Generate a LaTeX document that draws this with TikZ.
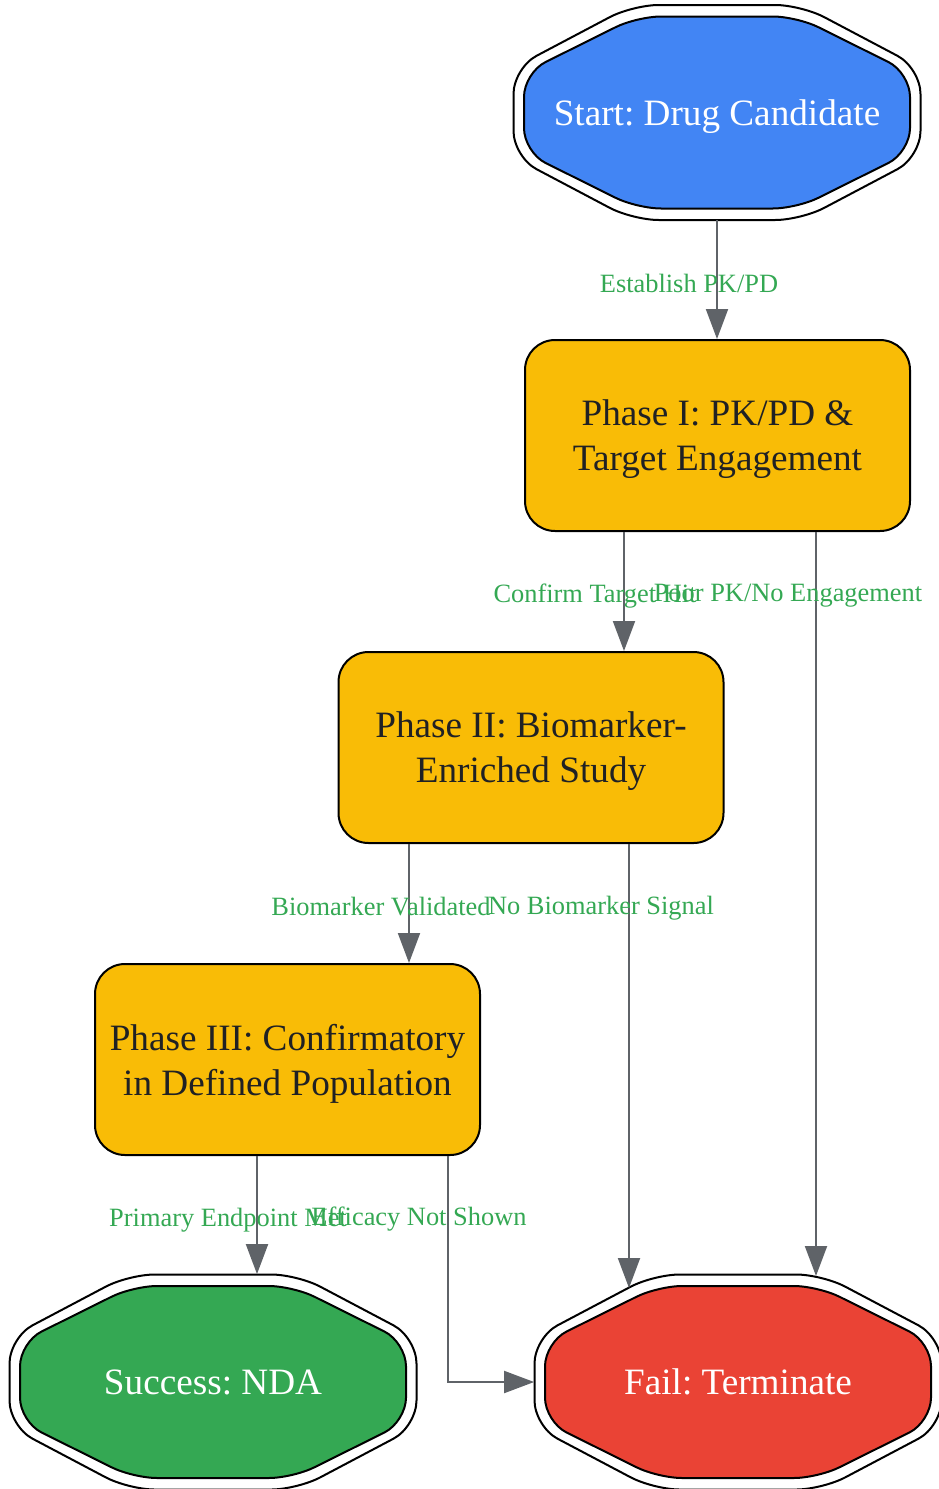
\documentclass[tikz,border=0pt]{standalone}
\usepackage{fontspec}
\setmainfont{Liberation Serif}
\usetikzlibrary{arrows.meta,positioning}

\definecolor{startblue}{HTML}{4285F4}
\definecolor{phaseyellow}{HTML}{F9BC06}
\definecolor{successgreen}{HTML}{34A853}
\definecolor{failred}{HTML}{EA4335}
\definecolor{edgegray}{HTML}{5F6368}
\definecolor{labelgreen}{HTML}{34A853}
\definecolor{nodetext}{HTML}{202124}

\newcommand{\nodefont}{\fontsize{18.6}{22.5}\selectfont}
\newcommand{\labelfont}{\fontsize{13.2}{15}\selectfont}
\frenchspacing

% octagon round a centre: #1 centre, #2 half width, #3 half height, #4 style
\newcommand{\octoutline}[4]{%
    \draw[#4,shift={(#1)}] (-0.414*#2,-#3) -- (0.414*#2,-#3) -- (#2,-0.414*#3)
        -- (#2,0.414*#3) -- (0.414*#2,#3) -- (-0.414*#2,#3) -- (-#2,0.414*#3)
        -- (-#2,-0.414*#3) -- cycle;}

\begin{document}
\begin{tikzpicture}[x=0.5pt,y=-0.5pt,
    phasebox/.style={draw=black,line width=1pt,fill=phaseyellow,rounded corners=15pt,
        minimum width=192.5pt,minimum height=95.5pt,align=center,text=nodetext,
        text depth=0pt,font=\nodefont},
    endnode/.style={minimum width=203.5pt,minimum height=107.5pt,inner sep=0pt,
        text depth=0pt,text=white,font=\nodefont},
    octouter/.style={draw=black,line width=1pt,fill=white,rounded corners=13pt},
    octinner/.style={draw=black,line width=1pt,rounded corners=12pt},
    flow/.style={draw=edgegray,line width=1pt,-{Triangle[length=15pt,width=11pt]}},
    flowlabel/.style={text=labelgreen,font=\labelfont,inner sep=0pt}]

    \useasboundingbox (0,0) rectangle (938,1489);

    % Draw the start / end octagons
    \coordinate (startc) at (717,112.5);
    \coordinate (successc) at (213,1382);
    \coordinate (failc) at (738,1382);

    \octoutline{startc}{203.5}{107.5}{octouter}
    \octoutline{startc}{193}{96}{octinner,fill=startblue}
    \octoutline{successc}{203.5}{107.5}{octouter}
    \octoutline{successc}{193}{96}{octinner,fill=successgreen}
    \octoutline{failc}{203.5}{107.5}{octouter}
    \octoutline{failc}{193}{96}{octinner,fill=failred}

    \node[endnode] (start) at (startc) {Start: Drug Candidate};
    \node[endnode] (success) at (successc) {Success: NDA};
    \node[endnode] (fail) at (failc) {Fail: Terminate};

    % Draw the phases
    \node[phasebox] (phasei) at (717.5,435.5) {Phase I: PK/PD \&\\Target Engagement};
    \node[phasebox] (phaseii) at (531,747.5) {Phase II: Biomarker-\\Enriched Study};
    \node[phasebox] (phaseiii) at (287.5,1059.5) {Phase III: Confirmatory\\in Defined Population};

    % arrow ends on the fail octagon
    \coordinate (failtopR) at (816,1276);
    \coordinate (failtopL) at (629,1288);

    % Draw the flow
    \draw[flow] (start.south) -- (start.south |- phasei.north);
    \node[flowlabel] at (689,283) {Establish PK/PD};

    \draw[flow] ([xshift=-46.75pt]phasei.south) -- ([xshift=-46.75pt]phasei.south |- phaseii.north);
    \node[flowlabel] at (595,596) {Confirm Target Hit};

    \draw[flow] (phasei.south -| failtopR) -- (failtopR);
    \node[flowlabel] at (788,596) {Poor PK/No Engagement};

    \draw[flow] ([xshift=-61pt]phaseii.south) -- ([xshift=-61pt]phaseii.south |- phaseiii.north);
    \node[flowlabel] at (381,907) {Biomarker Validated};

    \draw[flow] (phaseii.south -| failtopL) -- (failtopL);
    \node[flowlabel] at (601,908) {No Biomarker Signal};

    \draw[flow] ([xshift=-15.25pt]phaseiii.south) -- ([xshift=-15.25pt]phaseiii.south |- success.north);
    \node[flowlabel] at (228,1220) {Primary Endpoint Met};

    \draw[flow] ([xshift=80.25pt]phaseiii.south) -- ([xshift=80.25pt]phaseiii.south |- fail.west) -- (fail.west);
    \node[flowlabel] at (419,1219) {Efficacy Not Shown};
\end{tikzpicture}
\end{document}
